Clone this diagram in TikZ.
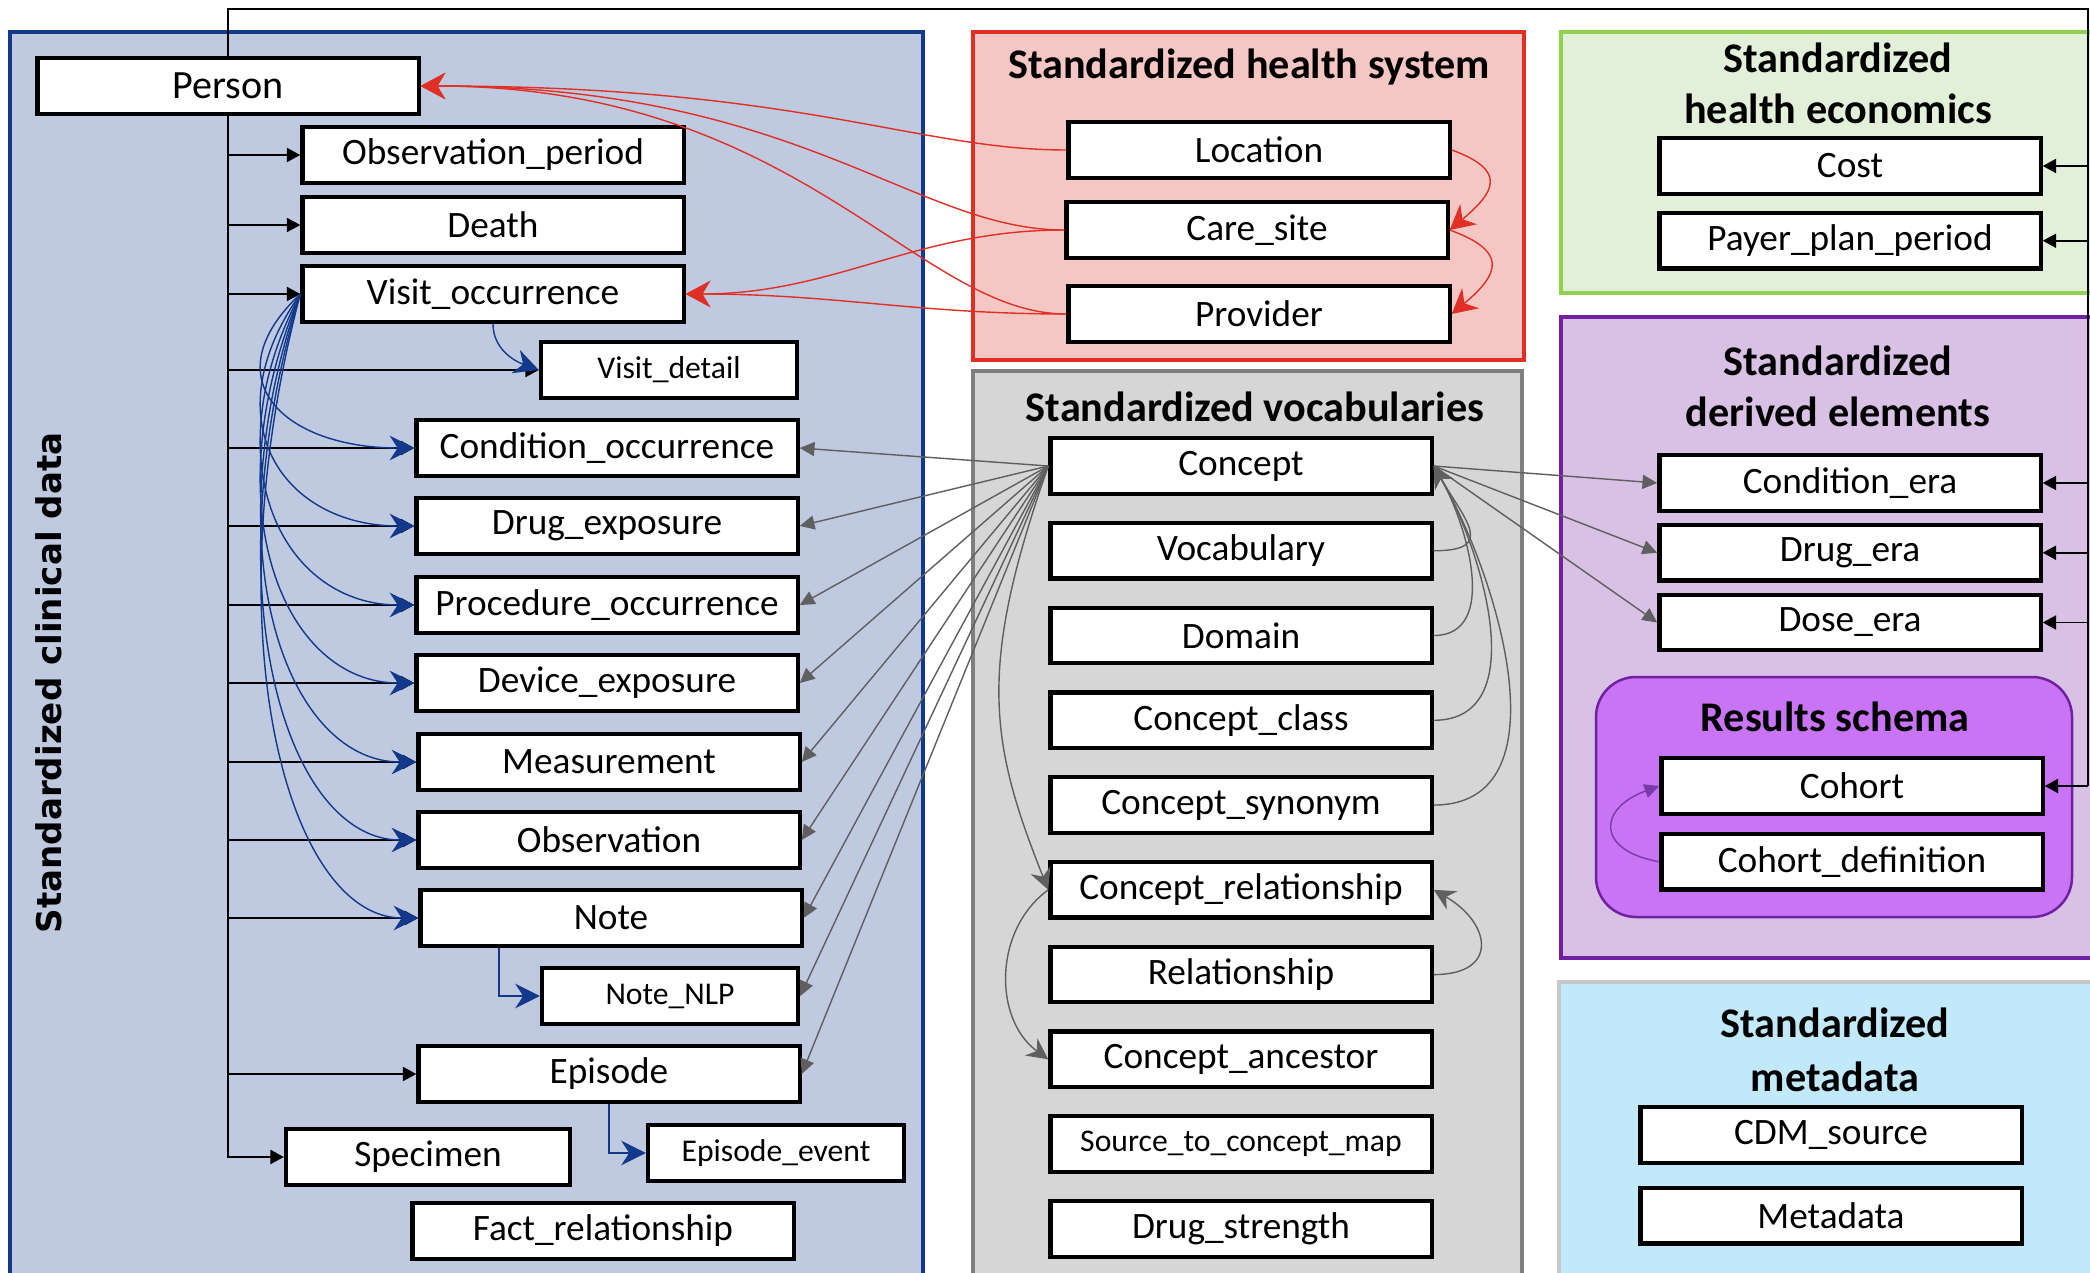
\documentclass[tikz,border=0pt]{standalone}
\usepackage{fontspec}
\setmainfont{Carlito}
\newfontfamily\sidefont{DejaVu Sans}
\usetikzlibrary{arrows.meta}
\usetikzlibrary{positioning}

\definecolor{clinfill}{RGB}{191,202,224}
\definecolor{clinline}{RGB}{18,57,140}
\definecolor{hsfill}{RGB}{244,199,196}
\definecolor{hsline}{RGB}{224,48,38}
\definecolor{vocfill}{RGB}{214,214,214}
\definecolor{vocline}{RGB}{127,127,127}
\definecolor{ecofill}{RGB}{226,240,217}
\definecolor{ecoline}{RGB}{146,208,80}
\definecolor{derfill}{RGB}{216,193,228}
\definecolor{derline}{RGB}{112,32,160}
\definecolor{resfill}{RGB}{201,115,245}
\definecolor{resarrow}{RGB}{120,60,170}
\definecolor{metafill}{RGB}{194,233,249}
\definecolor{metaline}{RGB}{200,200,200}
\definecolor{arrgrey}{RGB}{95,95,95}

\begin{document}
\begin{tikzpicture}[
    x=0.01cm, y=-0.01cm,
    tbl/.style={draw, line width=1.2pt, fill=white, minimum width=3.81cm, minimum height=0.555cm, inner sep=0pt, font=\fontsize{10.6}{12}\selectfont},
    tblsmall/.style={tbl, minimum width=2.56cm, font=\fontsize{9}{11}\selectfont},
    area/.style={line width=0.04cm},
    head/.style={font=\bfseries\fontsize{12}{14.5}\selectfont, align=center},
    tree/.style={line width=0.5pt},
    treearr/.style={tree, -{Triangle[length=3.8pt,width=4pt]}},
    fan/.style={draw=clinline, line width=0.4pt, -{Stealth[length=7pt,width=7pt]}},
    hsarr/.style={draw=hsline, line width=0.4pt, -{Stealth[length=7pt,width=7.5pt]}},
    vocarr/.style={draw=arrgrey, line width=0.4pt, -{Triangle[length=4.2pt,width=4pt]}},
    vocloop/.style={draw=arrgrey, line width=0.4pt, -{Stealth[length=6pt,width=6pt]}},
    resarr/.style={draw=resarrow, line width=0.4pt, -{Triangle[length=4.2pt,width=4pt]}},
  ]
  \useasboundingbox (0,0) rectangle (2090,1273);

  % areas
  \draw[area, draw=clinline, fill=clinfill] (10,32) rectangle (923,1310);
  \draw[area, draw=hsline, fill=hsfill] (973,32) rectangle (1524,360);
  \draw[area, draw=vocline, fill=vocfill] (973,371) rectangle (1522,1310);
  \draw[area, draw=ecoline, fill=ecofill] (1561,32) rectangle (2110,293);
  \draw[area, draw=derline, fill=derfill] (1561,317) rectangle (2110,958);
  \draw[line width=0.025cm, draw=derline, fill=resfill, rounded corners=0.4cm] (1596,677) rectangle (2072,917);
  \draw[area, draw=metaline, fill=metafill] (1559,982) rectangle (2110,1310);

  % titles
  \node[rotate=90, font=\sidefont\bfseries\fontsize{9.7}{12}\selectfont] (clintitle) at (49,683) {Standardized clinical data};
  \node[head] (hstitle) at (1249,67) {Standardized health system};
  \node[head] (voctitle) at (1255,407) {Standardized vocabularies};
  \node[head] (ecotitle) at (1838,83) {Standardized\\health economics};
  \node[head] (dertitle) at (1838,386) {Standardized\\derived elements};
  \node[head] (restitle) at (1835,717) {Results schema};
  \node[head, font=\bfseries\fontsize{12}{15.5}\selectfont] (metatitle) at (1835,1050) {Standardized\\metadata};

  % clinical data
  \node[tbl, font=\fontsize{11.4}{13}\selectfont] (person) at (228,86) {Person};
  \node[tbl] (obsper) at (493,155) {Observation\_period};
  \node[tbl] (death) at (493,225) {Death};
  \node[tbl] (visit) at (493,294) {Visit\_occurrence};
  \node[tblsmall] (vdetail) at (669,370) {Visit\_detail};
  \node[tbl] (cond) at (607,448) {Condition\_occurrence};
  \node[tbl] (drug) at (607,526) {Drug\_exposure};
  \node[tbl] (proc) at (607,605) {Procedure\_occurrence};
  \node[tbl] (dev) at (607,683) {Device\_exposure};
  \node[tbl] (meas) at (609,762) {Measurement};
  \node[tbl] (obs) at (609,840) {Observation};
  \node[tbl] (note) at (611,918) {Note};
  \node[tblsmall] (nlp) at (670,996) {Note\_NLP};
  \node[tbl] (epi) at (609,1074) {Episode};
  \node[tbl, minimum width=2.84cm] (spec) at (428,1157) {Specimen};
  \node[tblsmall] (evt) at (776,1153) {Episode\_event};
  \node[tbl] (fact) at (603,1231) {Fact\_relationship};

  % health system
  \node[tbl] (loc) at (1259,150) {Location};
  \node[tbl] (care) at (1257,230) {Care\_site};
  \node[tbl] (prov) at (1259,314) {Provider};

  % vocabularies
  \node[tbl] (concept) at (1241,466) {Concept};
  \node[tbl, below=0.25cm of concept] (vocab) {Vocabulary};
  \node[tbl, below=0.25cm of vocab] (domain) {Domain};
  \node[tbl, below=0.25cm of domain] (cclass) {Concept\_class};
  \node[tbl, below=0.25cm of cclass] (csyn) {Concept\_synonym};
  \node[tbl, below=0.25cm of csyn] (crel) {Concept\_relationship};
  \node[tbl, below=0.25cm of crel] (rel) {Relationship};
  \node[tbl, below=0.25cm of rel] (canc) {Concept\_ancestor};
  \node[tbl, below=0.25cm of canc, font=\fontsize{9}{11}\selectfont] (stcm) {Source\_to\_concept\_map};
  \node[tbl, below=0.25cm of stcm] (dstr) {Drug\_strength};

  % health economics
  \node[tbl] (cost) at (1850,166) {Cost};
  \node[tbl, below=0.15cm of cost] (payer) {Payer\_plan\_period};

  % derived elements
  \node[tbl] (cera) at (1850,483) {Condition\_era};
  \node[tbl, below=0.1cm of cera] (dera) {Drug\_era};
  \node[tbl, below=0.1cm of dera] (doseera) {Dose\_era};
  \node[tbl] (cohort) at (1852,786) {Cohort};
  \node[tbl, below=0.16cm of cohort] (cdef) {Cohort\_definition};

  % metadata
  \node[tbl] (cdm) at (1831,1135) {CDM\_source};
  \node[tbl, below=0.21cm of cdm] (meta) {Metadata};

  % person tree and rail
  \coordinate (railtop) at (2088,9);
  \draw[tree] (person.north) -- (person.north |- railtop) -- (railtop) -- (railtop |- cohort.east);
  \draw[treearr] (person.south) |- (spec.west);
  \foreach \t in {obsper, death, visit, vdetail, cond, drug, proc, dev, meas, obs, note, epi}
    \draw[treearr] (person.south |- \t.west) -- (\t.west);
  \foreach \t in {cost, payer, cera, dera, doseera, cohort}
    \draw[treearr] (railtop |- \t.east) -- (\t.east);

  % visit fan
  \foreach \t/\d in {cond/85, drug/128, proc/171, dev/214, meas/257, obs/300, note/343}
    \draw[fan] (visit.west) .. controls +(-90,\d) and +(-130,0) .. (\t.west);
  \draw[fan] (visit.south) to[out=-90,in=160] (vdetail.west);
  \draw[fan] ([xshift=-1.12cm]note.south) |- (nlp.west);
  \draw[fan] (epi.south) |- (evt.west);

  % health system links
  \draw[hsarr] (loc.west) .. controls +(-150,0) and +(380,0) .. (person.east);
  \draw[hsarr] (care.west) .. controls +(-150,0) and +(380,0) .. (person.east);
  \draw[hsarr] (prov.west) .. controls +(-150,0) and +(380,0) .. (person.east);
  \draw[hsarr] (care.west) to[out=180,in=0] (visit.east);
  \draw[hsarr] (prov.west) to[out=180,in=0] (visit.east);
  \draw[hsarr] (loc.east) to[out=-20,in=40,looseness=1.9] (care.east);
  \draw[hsarr] (care.east) to[out=-20,in=40,looseness=1.9] (prov.east);

  % concept links
  \foreach \t in {cond, drug, proc, dev, meas, obs, note, nlp, epi}
    \draw[vocarr] (concept.west) -- (\t.east);
  \foreach \t in {cera, dera, doseera}
    \draw[vocarr] (concept.east) -- (\t.west);
  \draw[vocloop] (concept.west) .. controls +(-70,200) and +(-60,-150) .. (crel.west);
  \draw[vocloop] (crel.west) .. controls +(-55,40) and +(-55,-40) .. (canc.west);
  \draw[vocloop] (vocab.east) to[out=0,in=-60,looseness=1.9] (concept.east);
  \foreach \t in {domain, cclass, csyn}
    \draw[vocloop] (\t.east) to[out=0,in=-60] (concept.east);
  \draw[vocloop] (rel.east) to[out=0,in=-30,looseness=2] (crel.east);

  % cohort
  \draw[resarr] (cdef.west) to[out=170,in=200,looseness=2.2] (cohort.west);
\end{tikzpicture}
\end{document}
